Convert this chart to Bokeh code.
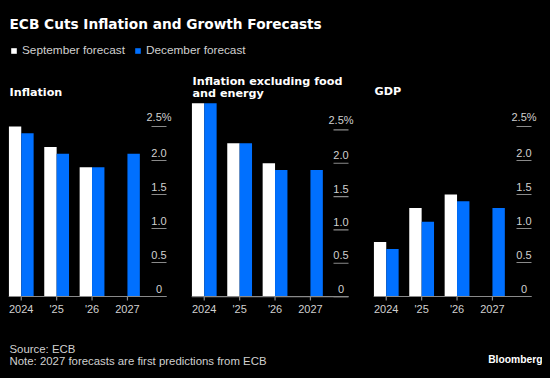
from bokeh.plotting import figure
from bokeh.layouts import column, row
from bokeh.models import (Range1d, FixedTicker, LabelSet, ColumnDataSource,
                          Legend, LegendItem)
from bokeh.core.properties import value
from bokeh.embed import file_html
from bokeh.resources import INLINE

# ---------------- data ----------------
years = ["2024", "'25", "'26", "2027"]
nan = float("nan")
infl_sep = [2.5, 2.2, 1.9, nan]
infl_dec = [2.4, 2.1, 1.9, 2.1]
core_sep = [2.9, 2.3, 2.0, nan]
core_dec = [2.9, 2.3, 1.9, 1.9]
gdp_sep = [0.8, 1.3, 1.5, nan]
gdp_dec = [0.7, 1.1, 1.4, 1.3]
y_ticks = [0, 0.5, 1.0, 1.5, 2.0, 2.5]
y_tick_labels = ["0", "0.5", "1.0", "1.5", "2.0", "2.5%"]
panel_titles = ["Inflation", "Inflation excluding food\nand energy", "GDP"]
series_names = ["September forecast", "December forecast"]
title_text = "ECB Cuts Inflation and Growth Forecasts"
source_text = "Source: ECB"
note_text = "Note: 2027 forecasts are first predictions from ECB"
brand_text = "Bloomberg"

# ---------------- style ----------------
BG = "#000000"
WHITE = "#ffffff"
BLUE = "#0070ff"
GRID = "#8a8a8a"
LABEL = "#d0d0d0"
REG = "Liberation Sans"
BOLD = "DejaVu Sans"

W = 534
HEAD_H, PANEL_H, FOOT_H = 92, 225, 45
PX_PER_CAT = 35.4
PX_PER_PCT = 68.0
EXTRA = 8        # room right of the tick lines for the "%" sign
TICK_LEN = 15    # length of the value-axis tick strokes (px)
XTICK_LEN = 4    # length of the category tick marks below the zero line (px)
RULE_W = 1.2     # thickness of rules (px)
BORDER_PAD = 6   # px of frame kept below the zero line (room for category ticks)
BASE_PAD = 5     # zero line position above the frame bottom (px)


def base_fig(w, h, **kw):
    p = figure(width=w, height=h, output_backend="svg", toolbar_location=None,
               background_fill_color=BG, border_fill_color=BG, outline_line_color=None,
               min_border_left=0, min_border_right=0, min_border_top=0, min_border_bottom=0,
               **kw)
    p.xgrid.visible = False
    p.ygrid.visible = False
    return p

# ---------------- header ----------------
head = base_fig(W, HEAD_H, x_range=Range1d(0, W), y_range=Range1d(HEAD_H, 0),
                x_axis_type=None, y_axis_type=None)
head.text(x=[1], y=[15.3], text=[title_text], text_font=value(BOLD), text_font_style="bold",
          text_font_size="13.7px", text_color=WHITE, text_baseline="middle")
head.text(x=[1, 184, 184, 366], y=[83.7, 72.5, 85.3, 83.2],
          text=[panel_titles[0]] + panel_titles[1].split("\n") + [panel_titles[2]],
          text_font=value(BOLD), text_font_style="bold", text_font_size="11.2px",
          text_color=WHITE, text_baseline="middle")
swatch = ColumnDataSource(dict(x=[nan], top=[nan]))
r_sep = head.vbar(x="x", top="top", width=1, source=swatch, fill_color=WHITE, line_color=None)
r_dec = head.vbar(x="x", top="top", width=1, source=swatch, fill_color=BLUE, line_color=None)
legend = Legend(items=[LegendItem(label=series_names[0], renderers=[r_sep]),
                       LegendItem(label=series_names[1], renderers=[r_dec])],
                orientation="horizontal", location=(2, 43), padding=0, margin=0, spacing=9,
                glyph_width=7, glyph_height=7, label_standoff=5, label_height=8,
                label_text_font=REG, label_text_font_size="11.8px", label_text_color=LABEL,
                background_fill_alpha=0, border_line_color=None)
head.add_layout(legend)

# ---------------- panels ----------------
def panel(width, border_left, border_right, border_bottom, sep, dec):
    frame_w = width - border_left - border_right
    frame_h = PANEL_H - border_bottom + BORDER_PAD
    x0 = -0.36
    x1 = x0 + frame_w / PX_PER_CAT
    x_tick_end = x1 - EXTRA / PX_PER_CAT
    x_tick_start = x_tick_end - TICK_LEN / PX_PER_CAT
    y0 = -BASE_PAD / PX_PER_PCT
    y1 = y0 + frame_h / PX_PER_PCT
    half_rule = (RULE_W / 2) / PX_PER_PCT
    p = base_fig(width, PANEL_H, x_range=Range1d(x0, x1), y_range=Range1d(y0, y1),
                 y_axis_location=None)
    p.min_border_left = border_left
    p.min_border_right = border_right
    p.min_border_bottom = border_bottom - BORDER_PAD
    idx = list(range(len(years)))
    src = ColumnDataSource(dict(idx=idx, xs=[i - 0.175 for i in idx],
                                xd=[i + 0.175 for i in idx], sep=sep, dec=dec))
    p.vbar(x="xs", top="sep", width=0.35, source=src, fill_color=WHITE, line_color=None)
    p.vbar(x="xd", top="dec", width=0.35, source=src, fill_color=BLUE, line_color=None)
    # zero line up to the end of the tick strokes (thin filled band)
    p.hbar(y=[0], left=[x0], right=[x_tick_end], height=2 * half_rule,
           fill_color=GRID, line_color=None)
    # category tick marks hanging below the zero line
    p.vbar(x="idx", top=0, bottom=-XTICK_LEN / PX_PER_PCT, width=RULE_W / PX_PER_CAT,
           source=src, fill_color=GRID, line_color=None)
    # value-axis tick marks: short horizontal strokes under each label
    tick_src = ColumnDataSource(dict(y=y_ticks, text=y_tick_labels))
    p.hbar(y="y", left=x_tick_start, right=x_tick_end, height=2 * half_rule,
           source=tick_src, fill_color=GRID, line_color=None)
    p.add_layout(LabelSet(x=(x_tick_start + x_tick_end) / 2, y="y", text="text",
                          source=tick_src, text_align="center", text_baseline="bottom",
                          y_offset=4, text_font=value(REG), text_font_size="11px",
                          text_color=LABEL))
    # x axis: labels only
    xa = p.xaxis[0]
    xa.ticker = FixedTicker(ticks=idx)
    xa.major_label_overrides = {i: years[i] for i in idx}
    xa.axis_line_color = None
    xa.major_tick_line_color = None
    xa.major_tick_out = 0
    xa.major_tick_in = 0
    xa.minor_tick_line_color = None
    xa.major_label_standoff = 1
    xa.major_label_text_font = REG
    xa.major_label_text_font_size = "11px"
    xa.major_label_text_color = LABEL
    return p

p1 = panel(177, 0, 19 - EXTRA, 30, infl_sep, infl_dec)
p2 = panel(180, 6, 17 - EXTRA, 26, core_sep, core_dec)
p3 = panel(177, 8, 11 - EXTRA, 30, gdp_sep, gdp_dec)

# ---------------- footer ----------------
foot = base_fig(W, FOOT_H, x_range=Range1d(0, W), y_range=Range1d(FOOT_H, 0),
                x_axis_type=None, y_axis_type=None)
foot.text(x=[1, 1], y=[23.5, 35.3], text=[source_text, note_text], text_font=value(REG),
          text_font_size="11.4px", text_color=LABEL, text_baseline="middle")
foot.text(x=[534], y=[33.7], text=[brand_text], text_font=value(REG), text_font_style="bold",
          text_font_size="10.3px", text_color=WHITE, text_baseline="middle", text_align="right")

layout = column(head, row(p1, p2, p3), foot)

html = file_html(layout, INLINE)
css = ("<style>html, body { background-color: #000000 !important; } "
       "body { padding: 8px !important; box-sizing: border-box; }</style>")
html = html.replace("</head>", css + "</head>", 1)
open("out.html", "w").write(html)
